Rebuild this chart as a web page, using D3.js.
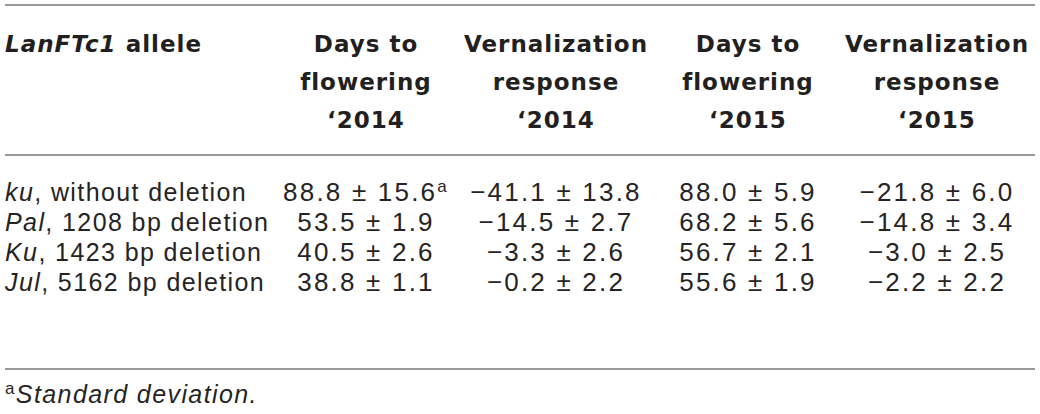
<!DOCTYPE html>
<html>
<head>
  <meta charset="utf-8">
  <title>LanFTc1 alleles</title>
  <style type="text/css">
    body {
      margin: 0;
      background-color: #fff;
    }
    svg text {
      font-family: "Liberation Sans", Arial, sans-serif;
      fill: #262324;
      letter-spacing: 1.4px;
    }
    text.head {
      font-family: "DejaVu Sans", sans-serif;
      font-weight: bold;
      fill: #231f20;
      letter-spacing: 1px;
    }
    text.num {
      letter-spacing: 2.2px;
    }
    line.rule {
      stroke: #9a9a9a;
      stroke-width: 2;
    }
  </style>
  <script src="https://d3js.org/d3.v7.min.js"></script>
</head>
<body>
<script>
// table values
var alleles = ["ku", "Pal", "Ku", "Jul"];
var deletions = [", without deletion", ", 1208 bp deletion", ", 1423 bp deletion", ", 5162 bp deletion"];

var days2014 = [88.8, 53.5, 40.5, 38.8];
var days2014Sd = [15.6, 1.9, 2.6, 1.1];
var vern2014 = [-41.1, -14.5, -3.3, -0.2];
var vern2014Sd = [13.8, 2.7, 2.6, 2.2];
var days2015 = [88.0, 68.2, 56.7, 55.6];
var days2015Sd = [5.9, 5.6, 2.1, 1.9];
var vern2015 = [-21.8, -14.8, -3.0, -2.2];
var vern2015Sd = [6.0, 3.4, 2.5, 2.2];

var columns = ["d14", "v14", "d15", "v15"];
var headers = [
  ["Days to", "flowering", "\u20182014"],
  ["Vernalization", "response", "\u20182014"],
  ["Days to", "flowering", "\u20182015"],
  ["Vernalization", "response", "\u20182015"]
];
var footnote = "Standard deviation.";

var width = 1040, height = 414;

var svg = d3.select("body").append("svg")
    .attr("width", width)
    .attr("height", height);

// column centres (columns are sized by their content)
var xcol = d3.scaleOrdinal()
    .domain(columns)
    .range([366, 556, 748, 937]);

var yrow = d3.scalePoint()
    .domain(d3.range(alleles.length))
    .range([201, 291]);

var yhead = d3.scalePoint()
    .domain([0, 1, 2])
    .range([52, 128]);

var fmt = function(v) {
  return (v < 0 ? "\u2212" : "") + d3.format(".1f")(Math.abs(v));
};

var left = 5, right = 1035, fs = 25, nfs = 26, hfs = 23;

// rules
svg.selectAll("line.rule")
  .data([5, 155, 369])
  .enter().append("line")
    .attr("class", "rule")
    .attr("x1", left).attr("x2", right)
    .attr("y1", function(d) { return d; })
    .attr("y2", function(d) { return d; });

// header
var h0 = svg.append("text")
    .attr("class", "head")
    .attr("x", left).attr("y", yhead(0))
    .style("font-size", hfs + "px");
h0.append("tspan").style("font-style", "italic").text("LanFTc1");
h0.append("tspan").text(" allele");

columns.forEach(function(c, i) {
  svg.selectAll(null)
    .data(headers[i])
    .enter().append("text")
      .attr("class", "head")
      .attr("text-anchor", "middle")
      .attr("x", xcol(c))
      .attr("y", function(d, j) { return yhead(j); })
      .style("font-size", hfs + "px")
      .text(function(d) { return d; });
});

// body rows
var rows = alleles.map(function(a, i) {
  return {
    allele: a,
    del: deletions[i],
    cells: [
      [days2014[i], days2014Sd[i]],
      [vern2014[i], vern2014Sd[i]],
      [days2015[i], days2015Sd[i]],
      [vern2015[i], vern2015Sd[i]]
    ]
  };
});

var lab = svg.selectAll("text.lab")
  .data(rows)
  .enter().append("text")
    .attr("class", "lab")
    .attr("x", left)
    .attr("y", function(d, i) { return yrow(i); })
    .style("font-size", fs + "px");
lab.append("tspan").style("font-style", "italic").text(function(d) { return d.allele; });
lab.append("tspan").text(function(d) { return d.del; });

rows.forEach(function(r, i) {
  r.cells.forEach(function(c, j) {
    var t = svg.append("text")
        .attr("class", "num")
        .attr("text-anchor", "middle")
        .attr("x", xcol(columns[j]))
        .attr("y", yrow(i))
        .style("font-size", nfs + "px");
    t.append("tspan").text(fmt(c[0]) + " \u00b1 " + d3.format(".1f")(c[1]));
    if (i === 0 && j === 0) {
      t.append("tspan").attr("dy", -9).style("font-size", "17px").text("a");
    }
  });
});

// footnote
var fn = svg.append("text")
    .attr("x", left).attr("y", 403)
    .style("font-size", fs + "px");
fn.append("tspan").attr("dy", -9).style("font-size", "17px").text("a");
fn.append("tspan").attr("dy", 9).style("font-style", "italic").text(footnote);
</script>
</body>
</html>
